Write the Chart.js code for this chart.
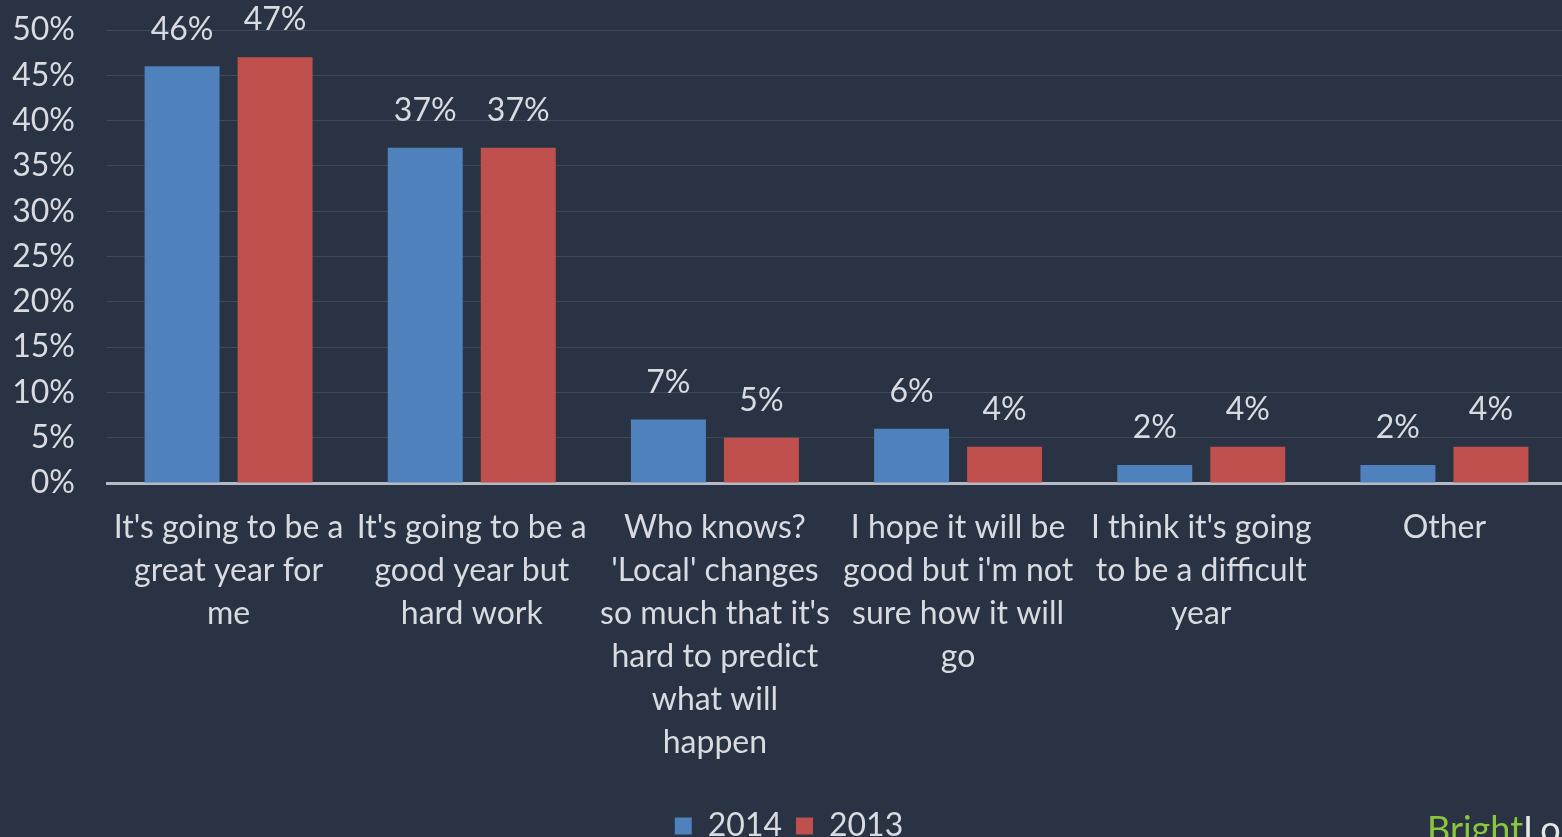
<!DOCTYPE html>
<html>
<head>
<meta charset="utf-8">
<script src="https://cdn.jsdelivr.net/npm/chart.js@4"></script>
<style>
  html, body { margin: 0; padding: 0; background: #2a3344; overflow: hidden; }
  #wrap { position: relative; width: 1566px; height: 837px; overflow: hidden; }
  #brand {
    position: absolute; left: 1427px; top: 806px;
    font-family: Lato, sans-serif; font-size: 36px; color: #e6e6e6;
    white-space: nowrap;
  }
  #brand span { color: #8cc63e; }
</style>
</head>
<body>
<div id="wrap">
  <canvas id="chart" width="1566" height="852"></canvas>
  <div id="brand"><span>Bright</span>Local</div>
</div>
<script>
// Survey answers, split into the lines shown under each pair of bars
const categories = [
    ["It's going to be a", "great year for", "me"],
    ["It's going to be a", "good year but", "hard work"],
    ["Who knows?", "'Local' changes", "so much that it's", "hard to predict", "what will", "happen"],
    ["I hope it will be", "good but i'm not", "sure how it will", "go"],
    ["I think it's going", "to be a difficult", "year"],
    ["Other"]
];
const values2014 = [46, 37, 7, 6, 2, 2];
const values2013 = [47, 37, 5, 4, 4, 4];
const yTicks = [0, 5, 10, 15, 20, 25, 30, 35, 40, 45, 50];

const TEXT = '#d9dbe0';
const FONT = 'Lato, sans-serif';
const SIZE = 32;

// percentage labels above each bar
const valueLabels = {
    id: 'valueLabels',
    afterDatasetsDraw(chart) {
        const c = chart.ctx;
        c.save();
        c.font = SIZE + 'px ' + FONT;
        c.fillStyle = TEXT;
        c.textAlign = 'center';
        c.textBaseline = 'middle';
        chart.data.datasets.forEach((ds, i) => {
            chart.getDatasetMeta(i).data.forEach((bar, j) => {
                c.fillText(ds.data[j] + '%', bar.x, bar.y - 37);
            });
        });
        c.restore();
    }
};

new Chart(document.getElementById('chart'), {
    type: 'bar',
    data: {
        labels: categories,
        datasets: [
            { label: '2014', data: values2014, backgroundColor: '#4f81bd' },
            { label: '2013', data: values2013, backgroundColor: '#c0504d' }
        ]
    },
    options: {
        responsive: false,
        animation: false,
        categoryPercentage: 0.765,
        barPercentage: 0.806,
        layout: { padding: { top: 30, left: 12, right: 0, bottom: 0 } },
        scales: {
            y: {
                min: 0,
                max: 50,
                afterBuildTicks: (axis) => { axis.ticks = yTicks.map(v => ({ value: v })); },
                afterFit: (axis) => {
                    axis.width = 95;
                    axis.paddingTop = 0;
                    axis.paddingBottom = 0;
                },
                grid: { color: 'rgba(255,255,255,0.11)', lineWidth: 1, drawTicks: false },
                border: { display: false },
                ticks: {
                    color: TEXT,
                    font: { family: FONT, size: SIZE },
                    padding: 32,
                    autoSkip: false,
                    callback: v => v + '%'
                }
            },
            x: {
                grid: { display: false },
                border: { color: '#b4bac4', width: 3 },
                afterFit: (axis) => {
                    axis.height = 313;
                    axis.paddingLeft = 0;
                    axis.paddingRight = 0;
                },
                ticks: {
                    color: TEXT,
                    font: { family: FONT, size: SIZE, lineHeight: 1.344 },
                    padding: 15,
                    maxRotation: 0,
                    autoSkip: false
                }
            }
        },
        plugins: {
            legend: {
                position: 'bottom',
                labels: {
                    color: TEXT,
                    font: { family: FONT, size: SIZE },
                    boxWidth: 17,
                    boxHeight: 17,
                    padding: 14
                }
            },
            tooltip: { enabled: false }
        }
    },
    plugins: [valueLabels]
});
</script>
</body>
</html>
